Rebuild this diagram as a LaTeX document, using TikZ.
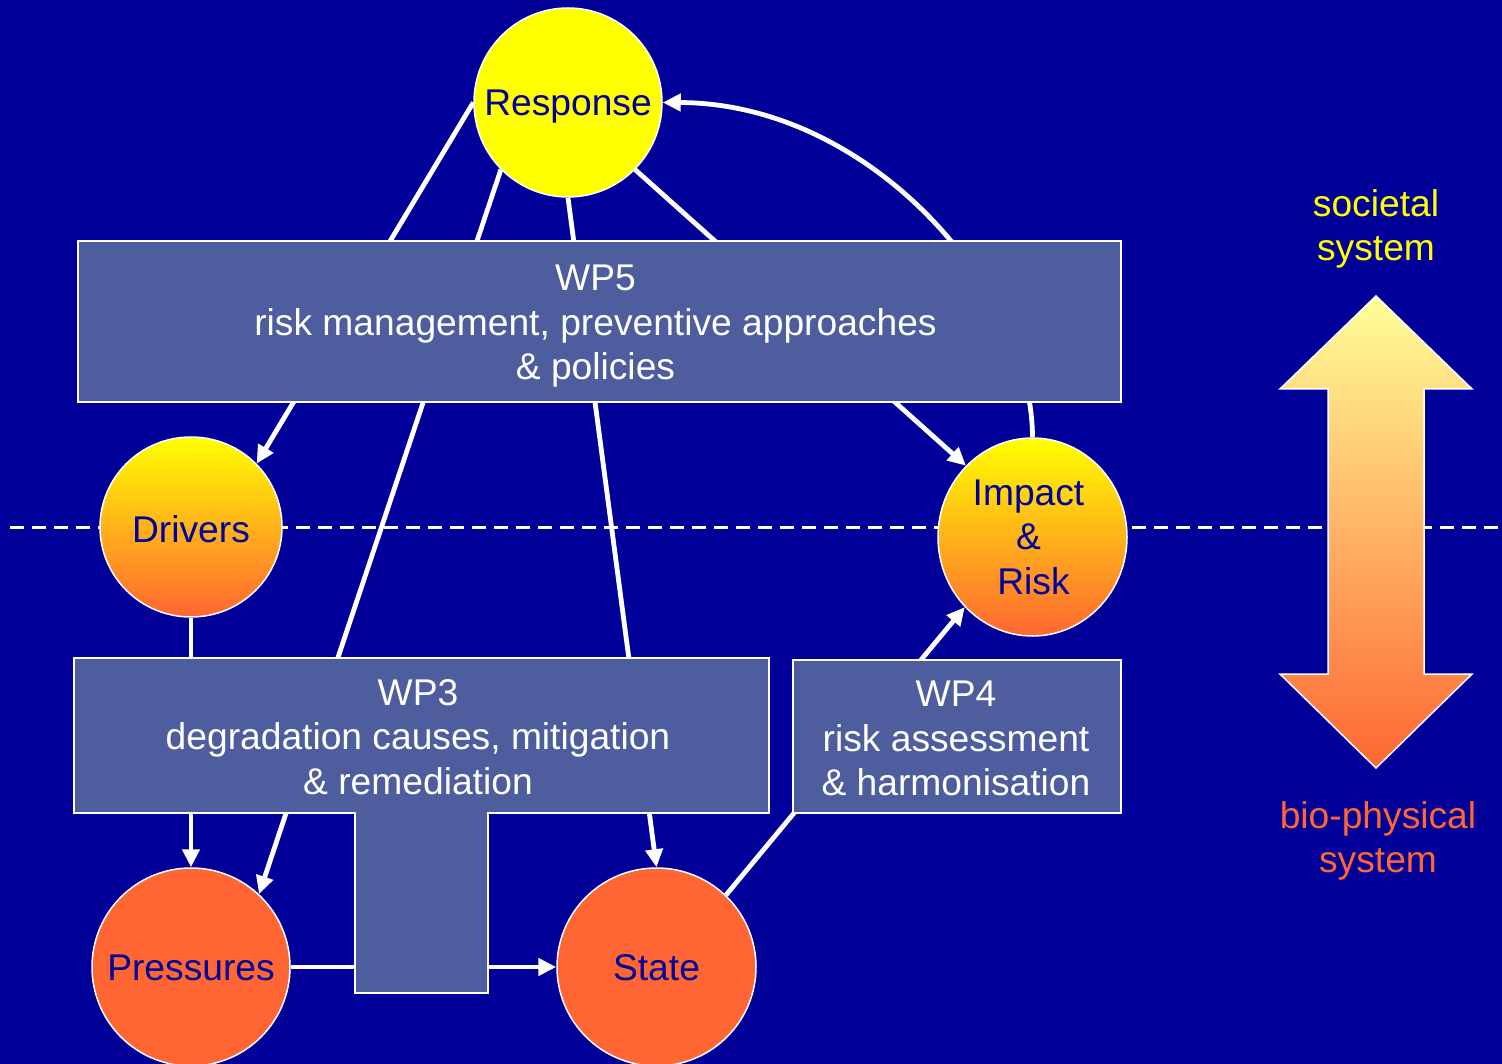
\documentclass[tikz,border=0pt]{standalone}
\usepackage{fontspec}
\setmainfont{Liberation Sans}
\usetikzlibrary{shapes.geometric,arrows.meta}
\definecolor{bgblue}{RGB}{0,0,153}
\definecolor{boxblue}{RGB}{77,93,158}
\definecolor{orng}{RGB}{255,102,51}
\definecolor{ylw}{RGB}{255,255,0}
\definecolor{lightylw}{RGB}{255,255,153}
\tikzset{
 bigfont/.style={font=\fontsize{37.2}{44.5}\selectfont},
 circ/.style={ellipse, draw=white, line width=1.5pt, inner sep=0pt},
 circtext/.style={text=bgblue, bigfont, align=center, inner sep=0pt},
 wpbox/.style={rectangle, draw=white, line width=1.5pt, fill=boxblue, inner sep=0pt},
 wptext/.style={text=white, bigfont, align=center, inner sep=0pt},
 conn/.style={draw=white, line width=4.8pt},
 arr/.style={conn, -{Triangle[length=18pt,width=17pt]}},
 sidelabel/.style={bigfont, align=center},
}
\begin{document}
\begin{tikzpicture}[x=1pt,y=-1pt]
\useasboundingbox (0,0) rectangle (1502,1064);
\clip (0,0) rectangle (1502,1064);
\fill[bgblue] (0,0) rectangle (1502,1064);

% dashed boundary
\coordinate (dl) at (10,527);
\coordinate (dr) at (1502,527);
\draw[white, line width=3pt, dash pattern=on 14pt off 8pt] (dl) -- (dr);

% ellipses
\node[circ, fill=ylw, minimum width=188pt, minimum height=189pt,
  label={[circtext, yshift=-4pt]center:Response}] (resp) at (568,102.5) {};
\node[circ, top color=ylw, bottom color=orng, minimum width=182pt, minimum height=180pt,
  label={[circtext, yshift=-2pt]center:Drivers}] (drv) at (191,527) {};
\node[circ, top color=ylw, bottom color=orng, minimum width=189pt, minimum height=198pt,
  label={[circtext, xshift=-4pt]center:{Impact\\\&\\\hspace*{10pt}Risk}}] (imp) at (1032.5,537) {};
\node[circ, fill=orng, minimum width=198pt, minimum height=198pt,
  label={[circtext, yshift=-1pt]center:Pressures}] (prs) at (191,967) {};
\node[circ, fill=orng, minimum width=199pt, minimum height=198pt,
  label={[circtext, yshift=-1pt]center:State}] (st) at (656.5,967) {};

% connectors
\draw[arr] (resp.west) -- (drv.44);
\draw[arr] (resp.225) -- (prs.47);
\draw[arr] (resp.south) -- (st.north);
\draw[arr] (resp.315) -- (imp.133);
\draw[arr] (imp.north) .. controls (1032,290) and (870,103) .. (resp.east);
\draw[arr] (drv.south) -- (prs.north);
\draw[arr] (prs.east) -- (st.west);
\draw[arr] (st.46) -- (imp.226);

% work package boxes
\node[wpbox, minimum width=1043pt, minimum height=161pt,
  label={[wptext, yshift=-5pt, xshift=-4pt]center:{WP5\\risk management, preventive approaches\\\& policies}}] (wp5) at (599.5,321.5) {};
\draw[white, line width=1.5pt, fill=boxblue] (74,658) -- (769,658) -- (769,813) -- (488,813) -- (488,993) -- (355,993) -- (355,813) -- (74,813) -- cycle;
\node[wptext] (wp3) at (418,737) {WP3\\degradation causes, mitigation\\\& remediation};
\node[wpbox, minimum width=328pt, minimum height=153pt,
  label={[wptext, yshift=-2pt, xshift=-1pt]center:{WP4\\risk assessment\\\& harmonisation}}] (wp4) at (957,736.5) {};

% double arrow
\shade[top color=lightylw, bottom color=orng, draw=white, line width=1.5pt]
 (1376,296) -- (1472,389) -- (1424,389) -- (1424,674) -- (1472,674) -- (1376,768)
 -- (1280,674) -- (1328,674) -- (1328,389) -- (1280,389) -- cycle;

% side labels
\node[sidelabel, text=ylw] (soc) at (1376,229) {societal\\system};
\node[sidelabel, text=orng] (bio) at (1378,841) {bio-physical\\system};
\end{tikzpicture}
\end{document}
